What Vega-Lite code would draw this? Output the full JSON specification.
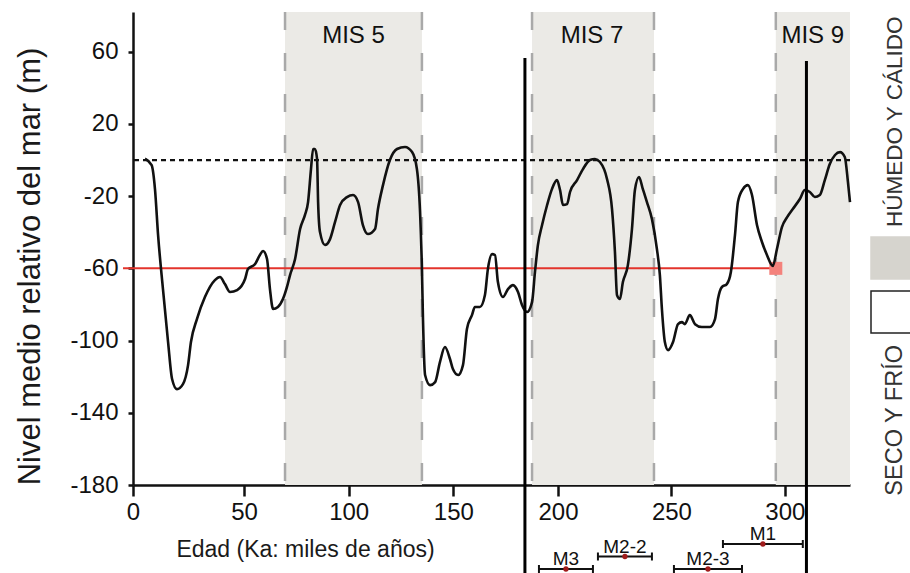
{
  "$schema": "https://vega.github.io/schema/vega-lite/v6.json",
  "background": "white",
  "padding": {"left": 13, "top": 10, "right": 0, "bottom": 0},
  "autosize": {"type": "pad"},
  "columns": 2,
  "spacing": {"row": 0, "column": 21},
  "bounds": "flush",
  "config": {"view": {"stroke": null}, "font": "Liberation Sans"},
  "datasets": {
    "curva": [
      {"edad": 5.4, "nivel": 0.7}, {"edad": 8.4, "nivel": -2.8}, {"edad": 9.9, "nivel": -16.1}, {"edad": 11.3, "nivel": -41.6},
      {"edad": 13.5, "nivel": -71.5}, {"edad": 15.8, "nivel": -100.8}, {"edad": 17.6, "nivel": -121.3}, {"edad": 19.8, "nivel": -126.9},
      {"edad": 22.5, "nivel": -124.1}, {"edad": 24.8, "nivel": -113.6}, {"edad": 26.1, "nivel": -100.8}, {"edad": 28.8, "nivel": -88.1},
      {"edad": 32.4, "nivel": -75.9}, {"edad": 36.9, "nivel": -66.5}, {"edad": 39.2, "nivel": -64.8}, {"edad": 41.4, "nivel": -68.7},
      {"edad": 43.7, "nivel": -73.1}, {"edad": 46.9, "nivel": -72.0}, {"edad": 50.5, "nivel": -65.9}, {"edad": 51.9, "nivel": -60.4},
      {"edad": 55.3, "nivel": -57.6}, {"edad": 57.6, "nivel": -52.6}, {"edad": 59.1, "nivel": -50.4}, {"edad": 61.0, "nivel": -54.8},
      {"edad": 62.4, "nivel": -71.5}, {"edad": 63.9, "nivel": -82.5}, {"edad": 66.2, "nivel": -81.4}, {"edad": 68.6, "nivel": -77.0},
      {"edad": 70.5, "nivel": -70.4}, {"edad": 72.0, "nivel": -63.7}, {"edad": 74.4, "nivel": -54.8}, {"edad": 76.8, "nivel": -38.2},
      {"edad": 79.1, "nivel": -30.5}, {"edad": 80.6, "nivel": -23.3}, {"edad": 82.0, "nivel": -5.0}, {"edad": 83.0, "nivel": 6.1},
      {"edad": 83.9, "nivel": 6.1}, {"edad": 84.9, "nivel": 0.6}, {"edad": 85.4, "nivel": -23.3}, {"edad": 86.3, "nivel": -39.9},
      {"edad": 88.7, "nivel": -47.1}, {"edad": 91.1, "nivel": -43.8}, {"edad": 93.5, "nivel": -34.3}, {"edad": 95.9, "nivel": -24.9},
      {"edad": 99.2, "nivel": -20.5}, {"edad": 102.1, "nivel": -19.4}, {"edad": 104.5, "nivel": -23.3}, {"edad": 106.8, "nivel": -36.0},
      {"edad": 109.2, "nivel": -41.0}, {"edad": 112.6, "nivel": -38.2}, {"edad": 114.0, "nivel": -27.1}, {"edad": 116.4, "nivel": -13.9},
      {"edad": 119.7, "nivel": 0.0}, {"edad": 123.1, "nivel": 6.1}, {"edad": 126.9, "nivel": 7.2}, {"edad": 130.3, "nivel": 4.4},
      {"edad": 132.6, "nivel": -5.0}, {"edad": 134.1, "nivel": -28.8}, {"edad": 135.0, "nivel": -60.4}, {"edad": 135.5, "nivel": -88.1},
      {"edad": 136.5, "nivel": -119.1}, {"edad": 138.9, "nivel": -124.7}, {"edad": 141.3, "nivel": -123.0}, {"edad": 143.6, "nivel": -111.9},
      {"edad": 146.0, "nivel": -103.6}, {"edad": 148.4, "nivel": -110.2}, {"edad": 149.8, "nivel": -115.8}, {"edad": 152.3, "nivel": -119.1},
      {"edad": 154.6, "nivel": -113.6}, {"edad": 156.5, "nivel": -93.6}, {"edad": 158.9, "nivel": -85.9}, {"edad": 160.3, "nivel": -81.4},
      {"edad": 162.7, "nivel": -81.4}, {"edad": 165.1, "nivel": -74.8}, {"edad": 166.5, "nivel": -60.4}, {"edad": 168.5, "nivel": -52.1},
      {"edad": 169.9, "nivel": -52.6}, {"edad": 171.3, "nivel": -67.6}, {"edad": 173.7, "nivel": -75.9}, {"edad": 176.1, "nivel": -71.5},
      {"edad": 178.5, "nivel": -69.3}, {"edad": 180.9, "nivel": -73.1}, {"edad": 182.8, "nivel": -80.3}, {"edad": 185.2, "nivel": -84.2},
      {"edad": 187.6, "nivel": -78.7}, {"edad": 189.0, "nivel": -62.0}, {"edad": 190.4, "nivel": -47.1}, {"edad": 192.4, "nivel": -36.0},
      {"edad": 194.8, "nivel": -24.9}, {"edad": 197.1, "nivel": -16.1}, {"edad": 199.5, "nivel": -11.1}, {"edad": 200.9, "nivel": -16.6},
      {"edad": 202.2, "nivel": -24.9}, {"edad": 204.0, "nivel": -24.4}, {"edad": 205.3, "nivel": -17.7}, {"edad": 208.4, "nivel": -11.1},
      {"edad": 211.0, "nivel": -5.0}, {"edad": 214.1, "nivel": 0.0}, {"edad": 216.3, "nivel": 0.6}, {"edad": 218.5, "nivel": -1.1},
      {"edad": 221.6, "nivel": -10.5}, {"edad": 223.8, "nivel": -27.1}, {"edad": 225.1, "nivel": -51.0}, {"edad": 226.0, "nivel": -74.8},
      {"edad": 227.3, "nivel": -77.0}, {"edad": 228.6, "nivel": -67.6}, {"edad": 230.8, "nivel": -58.2}, {"edad": 232.6, "nivel": -38.2},
      {"edad": 233.9, "nivel": -16.6}, {"edad": 235.7, "nivel": -9.4}, {"edad": 237.4, "nivel": -16.1}, {"edad": 239.2, "nivel": -23.3},
      {"edad": 241.4, "nivel": -32.7}, {"edad": 243.6, "nivel": -49.3}, {"edad": 244.9, "nivel": -63.7}, {"edad": 245.8, "nivel": -82.5},
      {"edad": 247.1, "nivel": -100.8}, {"edad": 248.5, "nivel": -105.3}, {"edad": 250.7, "nivel": -100.8}, {"edad": 252.9, "nivel": -90.9},
      {"edad": 254.6, "nivel": -89.8}, {"edad": 255.9, "nivel": -90.9}, {"edad": 258.1, "nivel": -85.9}, {"edad": 260.4, "nivel": -90.9},
      {"edad": 263.4, "nivel": -92.5}, {"edad": 267.0, "nivel": -92.5}, {"edad": 269.2, "nivel": -88.1}, {"edad": 270.5, "nivel": -77.0},
      {"edad": 272.2, "nivel": -70.4}, {"edad": 274.4, "nivel": -68.7}, {"edad": 276.2, "nivel": -62.0}, {"edad": 278.0, "nivel": -41.6},
      {"edad": 279.3, "nivel": -23.3}, {"edad": 281.5, "nivel": -16.1}, {"edad": 283.7, "nivel": -13.9}, {"edad": 285.5, "nivel": -19.4},
      {"edad": 287.7, "nivel": -36.0}, {"edad": 289.9, "nivel": -45.4}, {"edad": 292.1, "nivel": -52.6}, {"edad": 294.7, "nivel": -58.7},
      {"edad": 296.5, "nivel": -49.3}, {"edad": 298.7, "nivel": -37.1}, {"edad": 301.0, "nivel": -31.6}, {"edad": 303.5, "nivel": -27.1},
      {"edad": 306.6, "nivel": -21.6}, {"edad": 308.8, "nivel": -16.6}, {"edad": 311.0, "nivel": -17.7}, {"edad": 313.2, "nivel": -20.5},
      {"edad": 315.4, "nivel": -19.4}, {"edad": 317.6, "nivel": -11.1}, {"edad": 319.8, "nivel": -2.2}, {"edad": 322.1, "nivel": 2.8},
      {"edad": 324.3, "nivel": 4.4}, {"edad": 326.4, "nivel": 1.7}, {"edad": 327.8, "nivel": -12.2}, {"edad": 328.7, "nivel": -23.3}
    ],
    "mis": [
      {"mis": "MIS 5", "inicio": 69.6, "fin": 135.0},
      {"mis": "MIS 7", "inicio": 187.6, "fin": 242.3},
      {"mis": "MIS 9", "inicio": 296.0, "fin": 328.7}
    ],
    "etiquetas": [
      {"etiqueta": "MIS 5", "edad": 102.3},
      {"etiqueta": "MIS 7", "edad": 215.0},
      {"etiqueta": "MIS 9", "edad": 312.3}
    ],
    "bordes": [{"edad": 69.6}, {"edad": 135.0}, {"edad": 187.6}, {"edad": 242.3}, {"edad": 296.0}],
    "cero": [{"nivel": 0}],
    "umbral": [{"desde": -4.5, "hasta": 296.0, "nivel": -60}],
    "limites": [{"edad": 184.2, "tope": 56.5}, {"edad": 309.5, "tope": 54.8}],
    "osl": [
      {"muestra": "M1", "inicio": 272.7, "fin": 307.9, "edad": 290.3, "fila": 1},
      {"muestra": "M2-2", "inicio": 217.6, "fin": 241.4, "edad": 229.5, "fila": 2},
      {"muestra": "M3", "inicio": 190.9, "fin": 215.4, "edad": 203.5, "fila": 3},
      {"muestra": "M2-3", "inicio": 251.1, "fin": 281.1, "edad": 266.1, "fila": 3}
    ],
    "clima": [{"clima": "HÚMEDO Y CÁLIDO"}, {"clima": "SECO Y FRÍO"}]
  },
  "concat": [
    {
      "width": 717,
      "height": 473,
      "layer": [
        {
          "data": {"name": "mis"},
          "mark": {"type": "rect", "color": "#ebeae6"},
          "encoding": {
            "x": {"field": "inicio", "type": "quantitative",
              "scale": {"domain": [0, 50, 200, 328.7], "range": [0, 111, 425, 717], "nice": false, "zero": false},
              "axis": {"values": [0, 50, 100, 150, 200, 250, 300], "title": "Edad (Ka: miles de años)", "labelFlush": false, "labelOverlap": false, "grid": false,
                "domainColor": "#111", "domainWidth": 2.5, "tickColor": "#111", "tickWidth": 2.5, "tickSize": 11,
                "labelFontSize": 24, "labelPadding": 4, "labelColor": "#111", "labelFont": "Liberation Sans",
                "titleFont": "Liberation Sans", "titleFontSize": 23, "titleFontWeight": "normal", "titleColor": "#1a1a1a",
                "titleX": 172, "titleY": 71, "titleBaseline": "alphabetic", "titleAlign": "center"}},
            "x2": {"field": "fin"}
          }
        },
        {
          "data": {"name": "bordes"},
          "mark": {"type": "rule", "color": "#a9a9a9", "strokeWidth": 2.5, "strokeDash": [18, 23]},
          "encoding": {"x": {"field": "edad", "type": "quantitative", "scale": {"domain": [0, 50, 200, 328.7], "range": [0, 111, 425, 717], "nice": false, "zero": false}}}
        },
        {
          "data": {"name": "cero"},
          "mark": {"type": "rule", "color": "#111", "strokeWidth": 2.2, "strokeDash": [5, 4]},
          "encoding": {
            "y": {"field": "nivel", "type": "quantitative",
              "scale": {"domain": [-180, 82], "nice": false, "zero": false},
              "axis": {"values": [60, 20, -20, -60, -100, -140, -180], "title": "Nivel medio relativo del mar (m)",
                "labelExpr": "datum.value < 0 ? '-' + abs(datum.value) : '' + datum.value", "grid": false, "labelOverlap": false,
                "domainColor": "#111", "domainWidth": 2.5, "tickColor": "#111", "tickWidth": 2.5, "tickSize": 5,
                "labelFontSize": 24, "labelPadding": 10, "labelColor": "#111", "labelFont": "Liberation Sans",
                "titleFont": "Liberation Sans", "titleFontSize": 31, "titleFontWeight": "normal", "titleColor": "#1a1a1a",
                "titleX": -87, "titleY": 254, "titleAngle": 270, "titleBaseline": "bottom", "titleAlign": "center"}}
          }
        },
        {
          "data": {"name": "umbral"},
          "mark": {"type": "rule", "color": "#e3342c", "strokeWidth": 2},
          "encoding": {
            "x": {"field": "desde", "type": "quantitative", "scale": {"domain": [0, 50, 200, 328.7], "range": [0, 111, 425, 717], "nice": false, "zero": false}},
            "x2": {"field": "hasta"},
            "y": {"field": "nivel", "type": "quantitative", "scale": {"domain": [-180, 82], "nice": false, "zero": false}}
          }
        },
        {
          "data": {"name": "umbral"},
          "mark": {"type": "square", "size": 169, "color": "#f4827c", "opacity": 1},
          "encoding": {
            "x": {"field": "hasta", "type": "quantitative", "scale": {"domain": [0, 50, 200, 328.7], "range": [0, 111, 425, 717], "nice": false, "zero": false}},
            "y": {"field": "nivel", "type": "quantitative", "scale": {"domain": [-180, 82], "nice": false, "zero": false}}
          }
        },
        {
          "data": {"name": "curva"},
          "mark": {"type": "line", "color": "#111", "strokeWidth": 2.6, "interpolate": "monotone", "strokeJoin": "round"},
          "encoding": {
            "x": {"field": "edad", "type": "quantitative", "scale": {"domain": [0, 50, 200, 328.7], "range": [0, 111, 425, 717], "nice": false, "zero": false}},
            "y": {"field": "nivel", "type": "quantitative", "scale": {"domain": [-180, 82], "nice": false, "zero": false}}
          }
        },
        {
          "data": {"name": "limites"},
          "mark": {"type": "rule", "color": "#000", "strokeWidth": 3},
          "encoding": {
            "x": {"field": "edad", "type": "quantitative", "scale": {"domain": [0, 50, 200, 328.7], "range": [0, 111, 425, 717], "nice": false, "zero": false}},
            "y": {"field": "tope", "type": "quantitative", "scale": {"domain": [-180, 82], "nice": false, "zero": false}},
            "y2": {"datum": -180}
          }
        },
        {
          "data": {"name": "etiquetas"},
          "mark": {"type": "text", "fontSize": 24, "color": "#111", "baseline": "middle", "align": "center"},
          "encoding": {
            "x": {"field": "edad", "type": "quantitative", "scale": {"domain": [0, 50, 200, 328.7], "range": [0, 111, 425, 717], "nice": false, "zero": false}},
            "y": {"datum": 68.7, "type": "quantitative", "scale": {"domain": [-180, 82], "nice": false, "zero": false}},
            "text": {"field": "etiqueta"}
          }
        }
      ]
    },
    {
      "width": 42,
      "height": 473,
      "data": {"name": "clima"},
      "encoding": {
        "y": {"field": "clima", "type": "nominal", "scale": {"type": "point", "domain": ["HÚMEDO Y CÁLIDO", "SECO Y FRÍO"], "range": [246, 300], "padding": 0}, "axis": null}
      },
      "layer": [
        {
          "mark": {"type": "square", "size": 1764, "opacity": 1, "strokeWidth": 1.5},
          "encoding": {
            "fill": {"field": "clima", "type": "nominal", "scale": {"domain": ["HÚMEDO Y CÁLIDO", "SECO Y FRÍO"], "range": ["#d6d4ce", "#ffffff"]}, "legend": null},
            "stroke": {"field": "clima", "type": "nominal", "scale": {"domain": ["HÚMEDO Y CÁLIDO", "SECO Y FRÍO"], "range": ["#d6d4ce", "#222222"]}, "legend": null}
          }
        },
        {
          "transform": [{"filter": "datum.clima === 'HÚMEDO Y CÁLIDO'"}],
          "mark": {"type": "text", "angle": 270, "align": "left", "baseline": "alphabetic", "dx": 31, "dy": 10, "fontSize": 22.5, "color": "#333"},
          "encoding": {"text": {"field": "clima"}}
        },
        {
          "transform": [{"filter": "datum.clima === 'SECO Y FRÍO'"}],
          "mark": {"type": "text", "angle": 270, "align": "right", "baseline": "alphabetic", "dx": -33, "dy": 10, "fontSize": 23.5, "color": "#333"},
          "encoding": {"text": {"field": "clima"}}
        }
      ]
    },
    {
      "width": 717,
      "height": 90,
      "layer": [
        {
          "data": {"name": "limites"},
          "mark": {"type": "rule", "color": "#000", "strokeWidth": 3},
          "encoding": {"x": {"field": "edad", "type": "quantitative", "scale": {"domain": [0, 50, 200, 328.7], "range": [0, 111, 425, 717], "nice": false, "zero": false}, "axis": null}}
        },
        {
          "data": {"name": "osl"},
          "mark": {"type": "rule", "color": "#111", "strokeWidth": 2},
          "encoding": {
            "x": {"field": "inicio", "type": "quantitative", "scale": {"domain": [0, 50, 200, 328.7], "range": [0, 111, 425, 717], "nice": false, "zero": false}, "axis": null},
            "x2": {"field": "fin"},
            "y": {"field": "fila", "type": "ordinal", "scale": {"type": "point", "domain": [1, 2, 3], "range": [59, 84], "padding": 0}, "axis": null}
          }
        },
        {
          "data": {"name": "osl"},
          "mark": {"type": "tick", "color": "#111", "size": 8, "thickness": 2, "opacity": 1},
          "encoding": {
            "x": {"field": "inicio", "type": "quantitative", "scale": {"domain": [0, 50, 200, 328.7], "range": [0, 111, 425, 717], "nice": false, "zero": false}, "axis": null},
            "y": {"field": "fila", "type": "ordinal", "scale": {"type": "point", "domain": [1, 2, 3], "range": [59, 84], "padding": 0}, "axis": null}
          }
        },
        {
          "data": {"name": "osl"},
          "mark": {"type": "tick", "color": "#111", "size": 8, "thickness": 2, "opacity": 1},
          "encoding": {
            "x": {"field": "fin", "type": "quantitative", "scale": {"domain": [0, 50, 200, 328.7], "range": [0, 111, 425, 717], "nice": false, "zero": false}, "axis": null},
            "y": {"field": "fila", "type": "ordinal", "scale": {"type": "point", "domain": [1, 2, 3], "range": [59, 84], "padding": 0}, "axis": null}
          }
        },
        {
          "data": {"name": "osl"},
          "mark": {"type": "circle", "color": "#a01c1c", "size": 28, "opacity": 1},
          "encoding": {
            "x": {"field": "edad", "type": "quantitative", "scale": {"domain": [0, 50, 200, 328.7], "range": [0, 111, 425, 717], "nice": false, "zero": false}, "axis": null},
            "y": {"field": "fila", "type": "ordinal", "scale": {"type": "point", "domain": [1, 2, 3], "range": [59, 84], "padding": 0}, "axis": null}
          }
        },
        {
          "data": {"name": "osl"},
          "mark": {"type": "text", "fontSize": 19, "color": "#111", "baseline": "alphabetic", "align": "center", "dy": -4},
          "encoding": {
            "x": {"field": "edad", "type": "quantitative", "scale": {"domain": [0, 50, 200, 328.7], "range": [0, 111, 425, 717], "nice": false, "zero": false}, "axis": null},
            "y": {"field": "fila", "type": "ordinal", "scale": {"type": "point", "domain": [1, 2, 3], "range": [59, 84], "padding": 0}, "axis": null},
            "text": {"field": "muestra"}
          }
        }
      ]
    }
  ]
}
